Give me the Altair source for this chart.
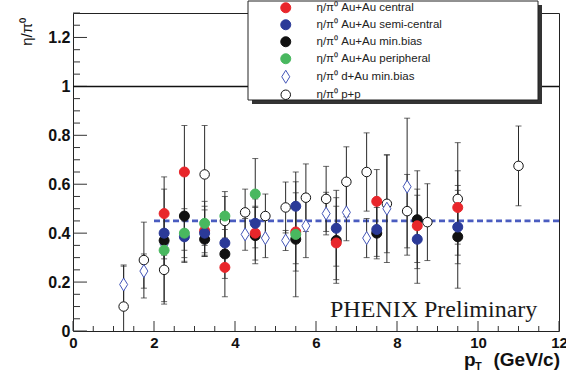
import altair as alt
import numpy as np
import pandas as pd

# ---------------------------------------------------------------------------
# eta/pi0 ratio versus pT for several collision systems
# ---------------------------------------------------------------------------
SERIES = [
    "η/π⁰ Au+Au central",
    "η/π⁰ Au+Au semi-central",
    "η/π⁰ Au+Au min.bias",
    "η/π⁰ Au+Au peripheral",
    "η/π⁰ d+Au min.bias",
    "η/π⁰ p+p",
]

auau_pt = [2.25, 2.75, 3.25, 3.75, 4.5, 5.5, 6.5, 7.5, 8.5, 9.5]

cen_ratio = [0.48, 0.65, 0.41, 0.26, 0.40, 0.405, 0.36, 0.53, 0.43, 0.505]
cen_err = [0.10, 0.19, 0.10, 0.12, 0.11, 0.16, 0.15, 0.13, 0.15, 0.15]

semi_ratio = [0.40, 0.385, 0.40, 0.36, 0.44, 0.51, 0.42, 0.415, 0.375, 0.425]
semi_err = [0.09, 0.10, 0.095, 0.10, 0.10, 0.14, 0.155, 0.11, 0.18, 0.15]

mb_ratio = [0.37, 0.47, 0.375, 0.315, 0.39, 0.375, 0.37, 0.40, 0.455, 0.385]
mb_err = [0.26, 0.19, 0.07, 0.10, 0.115, 0.235, 0.175, 0.105, 0.20, 0.21]

per_pt = [2.25, 2.75, 3.25, 3.75, 4.5, 5.5]
per_ratio = [0.33, 0.40, 0.44, 0.47, 0.56, 0.395]
per_err = [0.08, 0.10, 0.09, 0.10, 0.145, 0.12]

dau_pt = [1.25, 1.75, 2.25, 2.75, 3.25, 4.25, 4.75, 5.25, 5.75, 6.25, 6.75, 7.25, 7.75, 8.25]
dau_ratio = [0.19, 0.245, 0.355, 0.39, 0.38, 0.395, 0.38, 0.37, 0.43, 0.48, 0.485, 0.38, 0.50, 0.59]
dau_err = [0.075, 0.07, 0.06, 0.06, 0.06, 0.065, 0.08, 0.041, 0.13, 0.087, 0.116, 0.08, 0.22, 0.28]

pp_pt = [1.25, 1.75, 2.25, 3.25, 3.75, 4.25, 4.75, 5.25, 5.75, 6.25, 6.75, 7.25, 7.75, 8.25, 8.75, 9.5, 11.0]
pp_ratio = [0.10, 0.29, 0.25, 0.64, 0.45, 0.485, 0.47, 0.505, 0.545, 0.54, 0.61, 0.65, 0.52, 0.49, 0.445, 0.54, 0.675]
pp_err = [0.17, 0.155, 0.13, 0.20, 0.10, 0.095, 0.09, 0.104, 0.138, 0.133, 0.143, 0.16, 0.20, 0.15, 0.157, 0.23, 0.163]

# fitted constant level
fit_level = 0.45
fit_range = [2.0, 12.0]

# drawing order (back to front)
blocks = [
    (SERIES[5], pp_pt, pp_ratio, pp_err),
    (SERIES[4], dau_pt, dau_ratio, dau_err),
    (SERIES[2], auau_pt, mb_ratio, mb_err),
    (SERIES[0], auau_pt, cen_ratio, cen_err),
    (SERIES[1], auau_pt, semi_ratio, semi_err),
    (SERIES[3], per_pt, per_ratio, per_err),
]
rows = []
z = 0
for name, xs_, ys_, es_ in blocks:
    for x, y, e in zip(xs_, ys_, es_):
        rows.append({"series": name, "pt": x, "r": y, "lo": y - e, "hi": y + e, "z": z})
        z += 1
df = pd.DataFrame(rows)
caps = pd.concat([
    df[["pt", "lo"]].rename(columns={"lo": "v"}),
    df[["pt", "hi"]].rename(columns={"hi": "v"}),
])

W, H = 486, 318
xs = alt.Scale(domain=[0, 12], nice=False, zero=False)
ys = alt.Scale(domain=[0, 1.3], nice=False, zero=False)

x_axis = alt.Axis(values=list(range(0, 13, 2)), ticks=False, domain=False, grid=False,
                  labelFont="Liberation Sans", labelFontWeight="bold", labelFontSize=15,
                  labelColor="#111111", labelPadding=4, labelFlush=False, title=None)
y_axis = alt.Axis(values=[0, 0.2, 0.4, 0.6, 0.8, 1.0, 1.2], format="~g", ticks=False,
                  domain=False, grid=False, labelFont="Liberation Sans",
                  labelFontWeight="bold", labelFontSize=16, labelColor="#111111",
                  labelPadding=3, labelFlush=False, title=None)


def X(field):
    return alt.X(field, type="quantitative", scale=xs, axis=x_axis)


def Y(field):
    return alt.Y(field, type="quantitative", scale=ys, axis=y_axis)


stroke_col = ["#e8262b", "#2b3a98", "#111111", "#49b85f", "#4456b8", "#111111"]
fill_col = ["#e8262b", "#2b3a98", "#111111", "#49b85f", "#ffffff", "#ffffff"]
shapes = [
    "circle", "circle", "circle", "circle",
    "M0,-1.3L0.8,0L0,1.3L-0.8,0Z",
    "M0.95,0A0.95,0.95 0 1,1 -0.95,0A0.95,0.95 0 1,1 0.95,0Z",
]

leg = alt.Legend(
    title=None, orient="none", legendX=207, legendY=-11,
    labelFont="Liberation Sans", labelFontSize=11.5, labelColor="#222222",
    symbolSize=100, symbolStrokeWidth=1, rowPadding=2, labelOffset=25,
    padding=0, symbolOffset=0,
)

# inward axis ticks
xmaj = pd.DataFrame({"v": np.arange(0, 12.01, 2.0)})
xmin = pd.DataFrame({"v": [v for v in np.arange(0, 12.01, 0.5) if v % 2 != 0]})
ymaj = pd.DataFrame({"v": np.round(np.arange(0, 1.21, 0.2), 2)})
ymin = pd.DataFrame({"v": [v for v in np.round(np.arange(0, 1.31, 0.05), 2)
                           if abs(v / 0.2 - round(v / 0.2)) > 1e-6]})

tick_col = "#333333"
xmaj_r = alt.Chart(xmaj).mark_rule(color=tick_col).encode(
    x=X("v"), y=alt.value(H), y2=alt.value(H - 10))
xmin_r = alt.Chart(xmin).mark_rule(color=tick_col).encode(
    x=X("v"), y=alt.value(H), y2=alt.value(H - 5))
ymaj_r = alt.Chart(ymaj).mark_rule(color=tick_col).encode(
    y=Y("v"), x=alt.value(0), x2=alt.value(14))
ymin_r = alt.Chart(ymin).mark_rule(color=tick_col).encode(
    y=Y("v"), x=alt.value(0), x2=alt.value(7))

unity = alt.Chart(pd.DataFrame({"v": [1.0]})).mark_rule(color="#111111", strokeWidth=1.5).encode(
    y=Y("v"))

fit = alt.Chart(pd.DataFrame({"a": [fit_range[0]], "b": [fit_range[1]], "v": [fit_level]})).mark_rule(
    color="#4a5cc0", strokeWidth=2.6, strokeDash=[6, 3.5]).encode(
    x=X("a"), x2="b:Q", y=Y("v"))

bars = alt.Chart(df).mark_rule(color="#2a2a2a", strokeWidth=1, clip=True).encode(
    x=X("pt"), y=Y("lo"), y2="hi:Q")
capm = alt.Chart(caps).mark_tick(color="#2a2a2a", orient="horizontal", size=6, thickness=1,
                                  clip=True).encode(x=X("pt"), y=Y("v"))

points = alt.Chart(df).mark_point(size=100, strokeWidth=1, opacity=1, fillOpacity=1).encode(
    x=X("pt"),
    y=Y("r"),
    color=alt.Color("series:N", scale=alt.Scale(domain=SERIES, range=stroke_col), legend=leg),
    fill=alt.Fill("series:N", scale=alt.Scale(domain=SERIES, range=fill_col), legend=leg),
    shape=alt.Shape("series:N", scale=alt.Scale(domain=SERIES, range=shapes), legend=leg),
    order=alt.Order("z:Q"),
)

one = pd.DataFrame({"k": [0]})
shadow = alt.Chart(one).mark_rect(color="#333333").encode(
    x=alt.value(179), x2=alt.value(469), y=alt.value(-8), y2=alt.value(91))
box = alt.Chart(one).mark_rect(fill="#ffffff", stroke="#222222", strokeWidth=1).encode(
    x=alt.value(175), x2=alt.value(465), y=alt.value(-12), y2=alt.value(87))

prelim = alt.Chart(one).mark_text(font="Liberation Serif", fontSize=24, align="left",
                                  baseline="alphabetic", color="#1a1a1a").encode(
    x=alt.value(257), y=alt.value(304), text=alt.value("PHENIX Preliminary"))

xt_p = alt.Chart(one).mark_text(font="Liberation Sans", fontWeight="bold", fontSize=19,
                                align="left", baseline="alphabetic", color="#111111").encode(
    x=alt.value(391), y=alt.value(353), text=alt.value("p"))
xt_t = alt.Chart(one).mark_text(font="Liberation Sans", fontWeight="bold", fontSize=11,
                                align="left", baseline="alphabetic", color="#111111").encode(
    x=alt.value(402), y=alt.value(357), text=alt.value("T"))
xt_u = alt.Chart(one).mark_text(font="Liberation Sans", fontWeight="bold", fontSize=19,
                                align="right", baseline="alphabetic", color="#111111").encode(
    x=alt.value(487), y=alt.value(353), text=alt.value("(GeV/c)"))
yt = alt.Chart(one).mark_text(font="Liberation Sans", fontSize=15, align="right", angle=270,
                              baseline="alphabetic", color="#111111").encode(
    x=alt.value(-41), y=alt.value(5), text=alt.value("η/π⁰"))

chart = alt.layer(
    xmin_r, xmaj_r, ymin_r, ymaj_r, unity, fit, bars, capm, points,
    shadow, box, prelim, xt_p, xt_t, xt_u, yt,
).properties(
    width=W, height=H,
    autosize=alt.AutoSizeParams(type="none"),
    padding={"left": 73, "top": 13, "right": 7, "bottom": 42},
    background="#ffffff",
).configure_view(stroke="#222222", strokeWidth=1)

chart.save("out.html", embed_options={"renderer": "svg", "actions": False})
